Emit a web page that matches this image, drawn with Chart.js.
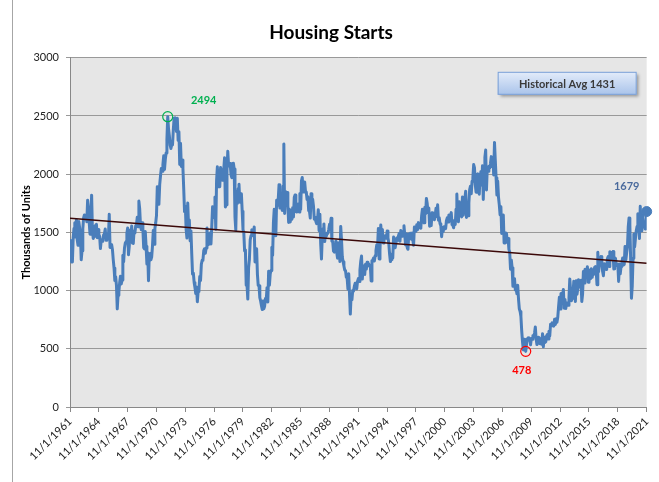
<!DOCTYPE html>
<html>
<head>
<meta charset="utf-8">
<script src="https://cdn.jsdelivr.net/npm/chart.js@4"></script>
<style>
html, body { margin: 0; padding: 0; background: #fff; }
#wrap { width: 659px; height: 482px; }
</style>
</head>
<body>
<div id="wrap"><canvas id="mycanvas" width="659" height="482"></canvas></div>
<script>
// monthly housing starts, thousands of units (SAAR), 11/1961 .. 11/2021
var startYear = 1961;
var starts = [
	1430, 1283,
	1246, 1246, 1456, 1534, 1583, 1460, 1608, 1437, 1389, 1593, 1541, 1476, // 1962
	1265, 1342, 1531, 1624, 1650, 1626, 1634, 1591, 1776, 1711, 1582, 1484,
	1603, 1820, 1517, 1448, 1467, 1550, 1562, 1569, 1455, 1524, 1483, 1467,
	1361, 1433, 1423, 1438, 1478, 1488, 1529, 1432, 1482, 1452, 1460, 1656,
	1370, 1378, 1394, 1352, 1265, 1194, 1086, 1119, 1046, 843, 961, 990,
	1067, 1123, 1056, 1091, 1304, 1248, 1364, 1407, 1421, 1491, 1538, 1308,
	1380, 1520, 1466, 1554, 1408, 1405, 1512, 1495, 1556, 1569, 1630, 1548,
	1769, 1705, 1561, 1524, 1583, 1528, 1368, 1358, 1507, 1381, 1229, 1327,
	1085, 1305, 1319, 1264, 1290, 1385, 1517, 1399, 1534, 1580, 1647, 1893, // 1970
	1828, 1741, 1910, 1986, 2049, 2026, 2083, 2158, 2041, 2128, 2182, 2295,
	2494, 2390, 2334, 2249, 2221, 2254, 2252, 2382, 2481, 2485, 2421, 2366,
	2481, 2289, 2365, 2084, 2266, 2067, 2123, 2051, 1874, 1677, 1724, 1526,
	1451, 1752, 1555, 1607, 1426, 1513, 1316, 1142, 1150, 1070, 1026, 975,
	1032, 904, 993, 1005, 1121, 1087, 1226, 1260, 1264, 1344, 1360, 1321,
	1367, 1538, 1421, 1395, 1459, 1495, 1401, 1550, 1720, 1629, 1641, 1804,
	1527, 1943, 2063, 1892, 1971, 1893, 2058, 2020, 1949, 2042, 2042, 2142,
	1718, 1738, 2032, 2197, 2075, 2070, 2092, 1996, 1970, 1981, 2094, 2044,
	1630, 1520, 1847, 1748, 1876, 1913, 1760, 1778, 1832, 1681, 1524, 1498,
	1341, 1350, 1047, 1051, 927, 1196, 1269, 1436, 1471, 1523, 1510, 1482, // 1980
	1547, 1246, 1306, 1360, 1140, 1045, 1041, 940, 911, 873, 837, 910,
	843, 866, 931, 917, 1025, 902, 1166, 1046, 1144, 1173, 1372, 1303,
	1586, 1699, 1606, 1472, 1776, 1733, 1785, 1910, 1710, 1715, 1785, 1688,
	1897, 2260, 1663, 1851, 1774, 1843, 1732, 1586, 1698, 1590, 1689, 1612,
	1711, 1632, 1800, 1821, 1680, 1676, 1684, 1743, 1676, 1834, 1698, 1942,
	1972, 1848, 1876, 1933, 1854, 1847, 1782, 1807, 1687, 1681, 1623, 1833,
	1774, 1784, 1726, 1614, 1628, 1594, 1575, 1605, 1695, 1515, 1656, 1400,
	1271, 1473, 1532, 1573, 1421, 1478, 1467, 1493, 1492, 1522, 1569, 1563,
	1621, 1425, 1422, 1339, 1331, 1397, 1427, 1332, 1279, 1410, 1351, 1251,
	1551, 1437, 1289, 1248, 1212, 1177, 1171, 1115, 1110, 1014, 1145, 969, // 1990
	798, 965, 921, 1001, 996, 1036, 1063, 1049, 1015, 1079, 1103, 1079,
	1176, 1250, 1297, 1099, 1214, 1145, 1139, 1226, 1186, 1244, 1214, 1227,
	1210, 1210, 1083, 1258, 1260, 1280, 1254, 1300, 1343, 1392, 1376, 1533,
	1272, 1337, 1564, 1465, 1526, 1409, 1439, 1450, 1474, 1450, 1511, 1455,
	1407, 1316, 1249, 1267, 1314, 1281, 1461, 1416, 1369, 1369, 1452, 1431,
	1467, 1491, 1424, 1516, 1504, 1467, 1472, 1557, 1475, 1392, 1489, 1370,
	1355, 1486, 1457, 1492, 1442, 1494, 1437, 1390, 1546, 1520, 1510, 1566,
	1525, 1584, 1567, 1540, 1536, 1641, 1698, 1614, 1582, 1715, 1660, 1792,
	1748, 1670, 1710, 1553, 1611, 1559, 1669, 1648, 1635, 1608, 1648, 1708,
	1636, 1737, 1604, 1626, 1575, 1559, 1463, 1541, 1507, 1549, 1551, 1532, // 2000
	1600, 1625, 1590, 1649, 1605, 1636, 1670, 1567, 1562, 1540, 1602, 1568,
	1698, 1829, 1642, 1592, 1764, 1717, 1655, 1633, 1804, 1648, 1753, 1788,
	1853, 1629, 1726, 1643, 1751, 1867, 1897, 1833, 1939, 1967, 2083, 2057,
	1911, 1846, 1998, 2003, 1981, 1828, 2002, 2024, 1905, 2072, 1782, 2042,
	2144, 2207, 1864, 2061, 2025, 2068, 2054, 2095, 2151, 2065, 2147, 1994,
	2273, 2119, 1969, 1821, 1942, 1802, 1737, 1650, 1720, 1491, 1570, 1649,
	1409, 1480, 1495, 1490, 1415, 1448, 1354, 1330, 1183, 1264, 1197, 1037,
	1084, 1103, 1005, 1013, 973, 1046, 927, 844, 820, 777, 652, 560,
	490, 582, 505, 478, 540, 585, 594, 586, 585, 534, 588, 581,
	614, 604, 636, 687, 583, 536, 546, 599, 594, 543, 545, 539, // 2010
	630, 517, 600, 554, 561, 608, 623, 585, 650, 610, 711, 694,
	723, 704, 695, 753, 708, 757, 728, 770, 861, 942, 841, 975,
	891, 960, 1010, 849, 924, 847, 891, 893, 874, 937, 1100, 1004,
	913, 934, 966, 1080, 1002, 906, 1085, 968, 1016, 1094, 1031, 1079,
	1089, 906, 970, 1164, 1066, 1183, 1146, 1136, 1205, 1072, 1176, 1128,
	1102, 1188, 1115, 1161, 1140, 1200, 1206, 1167, 1051, 1330, 1162, 1264,
	1253, 1292, 1220, 1164, 1128, 1231, 1186, 1183, 1181, 1275, 1293, 1207,
	1333, 1291, 1327, 1274, 1335, 1186, 1187, 1279, 1224, 1213, 1227, 1079,
	1228, 1144, 1207, 1240, 1280, 1220, 1225, 1378, 1262, 1324, 1375, 1548,
	1624, 1567, 1269, 934, 1038, 1278, 1487, 1376, 1448, 1514, 1551, 1661, // 2020
	1625, 1447, 1725, 1514, 1594, 1650, 1562, 1580, 1530, 1563, 1679
];
var trend = [1621, 1234];   // linear trend, first and last month
var avgText = 'Historical Avg 1431';

var lastIdx = starts.length - 1;
var iMax = 0, iMin = 0;
for (var i in starts) {
	if (starts[i] > starts[iMax]) iMax = +i;
	if (starts[i] < starts[iMin]) iMin = +i;
}
var points = starts.map(function(v, i) { return {x: i, y: v}; });

var decor = {
	id: 'decor',
	beforeDraw: function(chart) {
		var c = chart.ctx, a = chart.chartArea;
		c.save();
		c.fillStyle = '#fff';
		c.fillRect(0, 0, chart.width, chart.height);
		c.fillStyle = '#e6e6e6';
		c.fillRect(a.left, a.top, a.right - a.left, a.bottom - a.top);
		c.strokeStyle = '#a6a6a6';
		c.lineWidth = 1;
		c.beginPath();
		c.moveTo(12.5, 0);
		c.lineTo(12.5, chart.height);
		c.stroke();
		c.restore();
	},
	afterDraw: function(chart) {
		var c = chart.ctx, a = chart.chartArea;
		var xs = chart.scales.x, ys = chart.scales.y;
		c.save();
		c.font = 'bold 11px Lato';
		c.textAlign = 'center';
		c.textBaseline = 'middle';
		c.fillStyle = '#00b050';
		c.fillText(starts[iMax], xs.getPixelForValue(iMax) + 36, ys.getPixelForValue(starts[iMax]) - 16);
		c.fillStyle = '#ff0000';
		c.fillText(starts[iMin], xs.getPixelForValue(iMin) - 4, ys.getPixelForValue(starts[iMin]) + 19);
		c.fillStyle = '#4a6a9c';
		c.fillText(starts[lastIdx], xs.getPixelForValue(lastIdx) - 20, ys.getPixelForValue(starts[lastIdx]) - 25);

		// average box
		var bw = 139, bh = 23, bx = a.right - 10 - bw, by = a.top + 14;
		var g = c.createLinearGradient(0, by, 0, by + bh);
		g.addColorStop(0, '#e3ecfa');
		g.addColorStop(1, '#a9c3ea');
		c.shadowColor = 'rgba(0,0,0,0.35)';
		c.shadowBlur = 3;
		c.shadowOffsetX = 2;
		c.shadowOffsetY = 2;
		c.fillStyle = g;
		c.fillRect(bx, by, bw, bh);
		c.shadowColor = 'transparent';
		c.strokeStyle = '#7a9fd6';
		c.lineWidth = 1;
		c.strokeRect(bx + 0.5, by + 0.5, bw - 1, bh - 1);
		c.fillStyle = '#3a3a3a';
		c.font = 'bold 11px Lato';
		c.fillText(avgText, bx + bw / 2, by + bh / 2 + 1);
		c.restore();
	}
};

var ctx = document.getElementById('mycanvas');
var chart = new Chart(ctx, {
	type: 'line',
	data: {
		datasets: [
			{
				data: [{x: iMax, y: starts[iMax]}],
				showLine: false, pointRadius: 5, clip: false,
				pointBackgroundColor: 'rgba(0,0,0,0)', pointBorderColor: '#00b050', pointBorderWidth: 1.2,
				order: 0
			},
			{
				data: [{x: iMin, y: starts[iMin]}],
				showLine: false, pointRadius: 5, clip: false,
				pointBackgroundColor: 'rgba(0,0,0,0)', pointBorderColor: '#ff0000', pointBorderWidth: 1.2,
				order: 0
			},
			{
				data: [{x: lastIdx, y: starts[lastIdx]}],
				showLine: false, pointRadius: 5, clip: false,
				pointBackgroundColor: '#4a7ebb', pointBorderColor: '#4a7ebb', pointBorderWidth: 1,
				order: 0
			},
			{
				label: 'Trend',
				data: [{x: 0, y: trend[0]}, {x: lastIdx, y: trend[1]}],
				borderColor: '#3b0808', borderWidth: 1.5, pointRadius: 0,
				order: 1
			},
			{
				label: 'Housing Starts',
				data: points,
				borderColor: '#4a7ebb', borderWidth: 3, pointRadius: 0, tension: 0,
				borderJoinStyle: 'round',
				order: 2
			}
		]
	},
	options: {
		responsive: false,
		animation: false,
		devicePixelRatio: 1,
		layout: { padding: { left: 14, right: 11, top: 0, bottom: 0 } },
		plugins: {
			legend: { display: false },
			tooltip: { enabled: false },
			title: {
				display: true,
				text: 'Housing Starts',
				color: '#000',
				font: { family: 'Lato', size: 19, weight: 'bold' },
				padding: { top: 21, bottom: 14 }
			}
		},
		scales: {
			x: {
				type: 'linear',
				min: 0, max: lastIdx,
				afterFit: function(s) { s.height = 75; },
				ticks: {
					stepSize: 36, autoSkip: false,
					maxRotation: 45, minRotation: 45,
					color: '#222',
					font: { family: 'Lato', size: 11 },
					callback: function(v) { return '11/1/' + (startYear + v / 12); }
				},
				grid: { drawOnChartArea: false, drawTicks: true, tickLength: 5, color: '#888' },
				border: { display: true, color: '#888' }
			},
			y: {
				min: 0, max: 3000,
				afterFit: function(s) { s.width = 56; },
				ticks: {
					stepSize: 500, padding: 7,
					color: '#222',
					font: { family: 'Lato', size: 11 },
					callback: function(v) { return String(v); }
				},
				grid: { color: '#999', tickLength: 4 },
				border: { display: true, color: '#888' },
				title: {
					display: true,
					text: 'Thousands of Units',
					color: '#000',
					font: { family: 'Lato', size: 11, weight: 'bold' },
					padding: { top: 6, bottom: 0 }
				}
			}
		}
	},
	plugins: [decor]
});
</script>
</body>
</html>
